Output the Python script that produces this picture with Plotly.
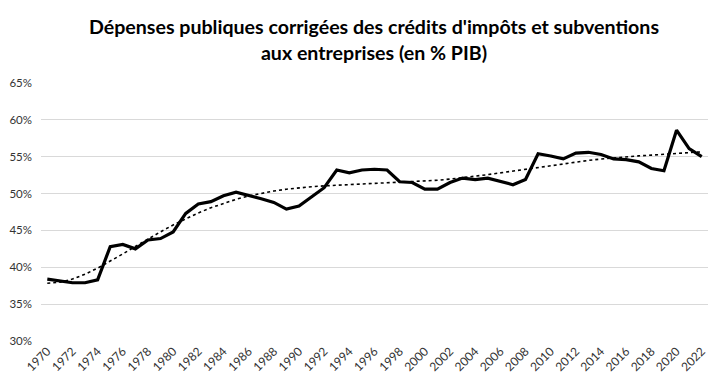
import numpy as np
import plotly.graph_objects as go

years = list(range(1970, 2023))
values = [38.4, 38.2, 37.9, 37.9, 38.3, 42.8, 43.1, 42.5, 43.7, 43.9,
          44.8, 47.3, 48.6, 48.9, 49.7, 50.2, 49.8, 49.3, 48.8, 47.9,
          48.3, 49.5, 50.8, 53.2, 52.8, 53.2, 53.3, 53.2, 51.6, 51.5,
          50.6, 50.6, 51.5, 52.1, 51.9, 52.1, 51.6, 51.2, 51.9, 55.4,
          55.1, 54.7, 55.5, 55.6, 55.3, 54.7, 54.6, 54.3, 53.4, 53.1,
          58.6, 56.1, 55.0]
tick_years = list(range(1970, 2023, 2))
y_ticks = [30, 35, 40, 45, 50, 55, 60, 65]

# polynomial trend line (order 6) fitted to the series
x = np.array(years, dtype=float)
t = (x - x.mean()) / x.std()
coef = np.polyfit(t, np.array(values), 6)
trend = np.polyval(coef, t)

fig = go.Figure()
fig.add_trace(go.Scatter(x=years, y=trend, mode="lines",
                         line=dict(color="black", width=1.6, dash="dot"),
                         showlegend=False, hoverinfo="skip"))
fig.add_trace(go.Scatter(x=years, y=values, mode="lines",
                         line=dict(color="black", width=3.2),
                         showlegend=False))

fig.update_layout(
    width=721, height=386,
    margin=dict(l=33, r=21, t=75, b=53, autoexpand=False),
    paper_bgcolor="white", plot_bgcolor="white",
    font=dict(family="Lato, Carlito, Calibri, sans-serif", color="#333333", size=12),
    title=dict(text="<b>Dépenses publiques corrigées des crédits d'impôts et subventions<br>aux entreprises (en % PIB)</b>",
               x=0.5076, xanchor="center", y=0.932, yanchor="top",
               font=dict(size=19.6, color="black", family="Lato, Carlito, Calibri, sans-serif")),
    xaxis=dict(range=[1969.5, 2022.5], tickmode="array", tickvals=tick_years,
               ticktext=[str(v) for v in tick_years], tickangle=-45,
               showgrid=False, zeroline=False, showline=False, ticks="",
               automargin=False, tickfont=dict(size=12, color="#333333")),
    yaxis=dict(range=[30, 65], tickmode="array", tickvals=y_ticks,
               ticktext=[f"{v}%" for v in y_ticks],
               showgrid=True, gridcolor="#d9d9d9", gridwidth=1,
               zeroline=False, showline=False, ticks="", ticklabelstandoff=8,
               automargin=False, tickfont=dict(size=11.5, color="#333333")),
)

fig.write_html("out.html")
